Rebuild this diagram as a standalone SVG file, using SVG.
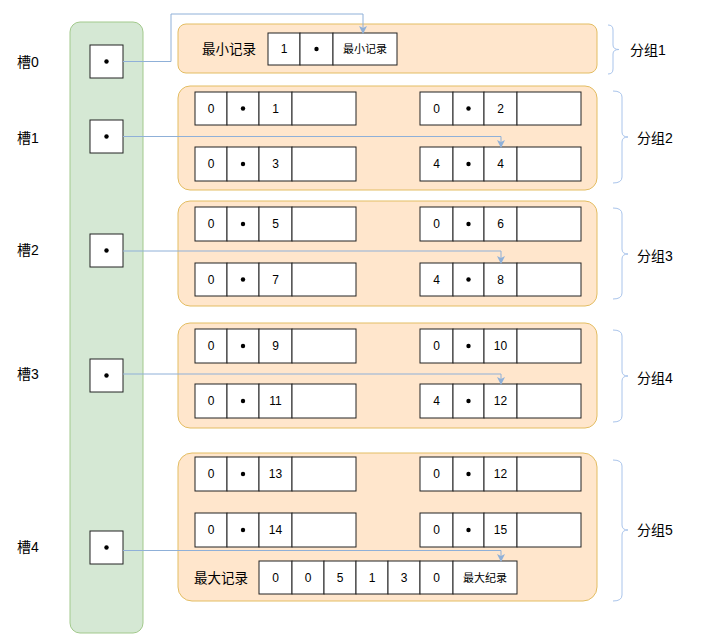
<svg xmlns="http://www.w3.org/2000/svg" width="701" height="643" viewBox="0 0 701 643">
<style>
text{font-family:"Liberation Sans","Noto Sans CJK SC",sans-serif;fill:#000}
.c{fill:#fff;stroke:#222;stroke-width:1}
.t{font-size:12px;text-anchor:middle;dominant-baseline:central}
.d{fill:#000}
.ts{font-size:11px;text-anchor:middle;dominant-baseline:central}
.lbl{font-size:14px;dominant-baseline:central}
.grp{fill:#ffe6cc;stroke:#e3bd62;stroke-width:1}
.br{fill:none;stroke:#a9c4eb;stroke-width:1}
.cn{fill:none;stroke:#8fb0d8;stroke-width:1}
</style>
<defs>
<marker id="ah" markerWidth="8" markerHeight="8" refX="7" refY="4" orient="auto" markerUnits="userSpaceOnUse">
<path d="M0,0 L8,4 L0,8 L2,4 Z" fill="#8fb0d8"/>
</marker>
</defs>

<g id="slots">
<rect x="70" y="22" width="73" height="611" rx="10" fill="#d5e8d4" stroke="#a2c98c"/>
</g>
<g id="slot0"><text class="lbl" x="17" y="62">槽0</text><rect class="c" x="90" y="45" width="33" height="33"/><circle class="d" cx="106.5" cy="61.5" r="2.2"/></g>
<g id="slot1"><text class="lbl" x="17" y="138">槽1</text><rect class="c" x="90" y="120" width="33" height="33"/><circle class="d" cx="106.5" cy="136.5" r="2.2"/></g>
<g id="slot2"><text class="lbl" x="17" y="250">槽2</text><rect class="c" x="90" y="234" width="33" height="33"/><circle class="d" cx="106.5" cy="250.5" r="2.2"/></g>
<g id="slot3"><text class="lbl" x="17" y="374">槽3</text><rect class="c" x="90" y="359" width="33" height="33"/><circle class="d" cx="106.5" cy="375.5" r="2.2"/></g>
<g id="slot4"><text class="lbl" x="17" y="547">槽4</text><rect class="c" x="90" y="531" width="33" height="33"/><circle class="d" cx="106.5" cy="547.5" r="2.2"/></g>

<g id="group1">
<rect class="grp" x="178" y="24" width="419" height="49" rx="8"/>
<text class="lbl" x="202" y="49" style="font-size:13.5px">最小记录</text>
<rect class="c" x="268" y="33" width="32" height="32"/><text class="t" x="284" y="49">1</text>
<rect class="c" x="300" y="33" width="33" height="32"/><circle class="d" cx="316.5" cy="49" r="2.2"/>
<rect class="c" x="333" y="33" width="64" height="32"/><text class="ts" x="365" y="49">最小记录</text>
</g>

<g id="group2">
<rect class="grp" x="178" y="86" width="419" height="104" rx="12"/>
<g transform="translate(0,92)">
<rect class="c" x="195" y="0" width="32" height="33"/><text class="t" x="211" y="16.5">0</text>
<rect class="c" x="227" y="0" width="32" height="33"/><circle class="d" cx="243" cy="16.5" r="2.2"/>
<rect class="c" x="259" y="0" width="33" height="33"/><text class="t" x="275.5" y="16.5">1</text>
<rect class="c" x="292" y="0" width="64" height="33"/>
<rect class="c" x="420" y="0" width="33" height="33"/><text class="t" x="436.5" y="16.5">0</text>
<rect class="c" x="453" y="0" width="31" height="33"/><circle class="d" cx="468.5" cy="16.5" r="2.2"/>
<rect class="c" x="484" y="0" width="33" height="33"/><text class="t" x="500.5" y="16.5">2</text>
<rect class="c" x="517" y="0" width="64" height="33"/>
</g>
<g transform="translate(0,147)">
<rect class="c" x="195" y="0" width="32" height="34"/><text class="t" x="211" y="17">0</text>
<rect class="c" x="227" y="0" width="32" height="34"/><circle class="d" cx="243" cy="17" r="2.2"/>
<rect class="c" x="259" y="0" width="33" height="34"/><text class="t" x="275.5" y="17">3</text>
<rect class="c" x="292" y="0" width="64" height="34"/>
<rect class="c" x="420" y="0" width="33" height="34"/><text class="t" x="436.5" y="17">4</text>
<rect class="c" x="453" y="0" width="31" height="34"/><circle class="d" cx="468.5" cy="17" r="2.2"/>
<rect class="c" x="484" y="0" width="33" height="34"/><text class="t" x="500.5" y="17">4</text>
<rect class="c" x="517" y="0" width="64" height="34"/>
</g>
</g>

<g id="group3">
<rect class="grp" x="178" y="201" width="419" height="105" rx="12"/>
<g transform="translate(0,207)">
<rect class="c" x="195" y="0" width="32" height="34"/><text class="t" x="211" y="17">0</text>
<rect class="c" x="227" y="0" width="32" height="34"/><circle class="d" cx="243" cy="17" r="2.2"/>
<rect class="c" x="259" y="0" width="33" height="34"/><text class="t" x="275.5" y="17">5</text>
<rect class="c" x="292" y="0" width="64" height="34"/>
<rect class="c" x="420" y="0" width="33" height="34"/><text class="t" x="436.5" y="17">0</text>
<rect class="c" x="453" y="0" width="31" height="34"/><circle class="d" cx="468.5" cy="17" r="2.2"/>
<rect class="c" x="484" y="0" width="33" height="34"/><text class="t" x="500.5" y="17">6</text>
<rect class="c" x="517" y="0" width="64" height="34"/>
</g>
<g transform="translate(0,263)">
<rect class="c" x="195" y="0" width="32" height="33"/><text class="t" x="211" y="16.5">0</text>
<rect class="c" x="227" y="0" width="32" height="33"/><circle class="d" cx="243" cy="16.5" r="2.2"/>
<rect class="c" x="259" y="0" width="33" height="33"/><text class="t" x="275.5" y="16.5">7</text>
<rect class="c" x="292" y="0" width="64" height="33"/>
<rect class="c" x="420" y="0" width="33" height="33"/><text class="t" x="436.5" y="16.5">4</text>
<rect class="c" x="453" y="0" width="31" height="33"/><circle class="d" cx="468.5" cy="16.5" r="2.2"/>
<rect class="c" x="484" y="0" width="33" height="33"/><text class="t" x="500.5" y="16.5">8</text>
<rect class="c" x="517" y="0" width="64" height="33"/>
</g>
</g>

<g id="group4">
<rect class="grp" x="178" y="323" width="419" height="105" rx="12"/>
<g transform="translate(0,329)">
<rect class="c" x="195" y="0" width="32" height="34"/><text class="t" x="211" y="17">0</text>
<rect class="c" x="227" y="0" width="32" height="34"/><circle class="d" cx="243" cy="17" r="2.2"/>
<rect class="c" x="259" y="0" width="33" height="34"/><text class="t" x="275.5" y="17">9</text>
<rect class="c" x="292" y="0" width="64" height="34"/>
<rect class="c" x="420" y="0" width="33" height="34"/><text class="t" x="436.5" y="17">0</text>
<rect class="c" x="453" y="0" width="31" height="34"/><circle class="d" cx="468.5" cy="17" r="2.2"/>
<rect class="c" x="484" y="0" width="33" height="34"/><text class="t" x="500.5" y="17">10</text>
<rect class="c" x="517" y="0" width="64" height="34"/>
</g>
<g transform="translate(0,384)">
<rect class="c" x="195" y="0" width="32" height="34"/><text class="t" x="211" y="17">0</text>
<rect class="c" x="227" y="0" width="32" height="34"/><circle class="d" cx="243" cy="17" r="2.2"/>
<rect class="c" x="259" y="0" width="33" height="34"/><text class="t" x="275.5" y="17">11</text>
<rect class="c" x="292" y="0" width="64" height="34"/>
<rect class="c" x="420" y="0" width="33" height="34"/><text class="t" x="436.5" y="17">4</text>
<rect class="c" x="453" y="0" width="31" height="34"/><circle class="d" cx="468.5" cy="17" r="2.2"/>
<rect class="c" x="484" y="0" width="33" height="34"/><text class="t" x="500.5" y="17">12</text>
<rect class="c" x="517" y="0" width="64" height="34"/>
</g>
</g>

<g id="group5">
<rect class="grp" x="178" y="453" width="419" height="148" rx="14"/>
<g transform="translate(0,457)">
<rect class="c" x="195" y="0" width="32" height="34"/><text class="t" x="211" y="17">0</text>
<rect class="c" x="227" y="0" width="32" height="34"/><circle class="d" cx="243" cy="17" r="2.2"/>
<rect class="c" x="259" y="0" width="33" height="34"/><text class="t" x="275.5" y="17">13</text>
<rect class="c" x="292" y="0" width="64" height="34"/>
<rect class="c" x="420" y="0" width="33" height="34"/><text class="t" x="436.5" y="17">0</text>
<rect class="c" x="453" y="0" width="31" height="34"/><circle class="d" cx="468.5" cy="17" r="2.2"/>
<rect class="c" x="484" y="0" width="33" height="34"/><text class="t" x="500.5" y="17">12</text>
<rect class="c" x="517" y="0" width="64" height="34"/>
</g>
<g transform="translate(0,513)">
<rect class="c" x="195" y="0" width="32" height="34"/><text class="t" x="211" y="17">0</text>
<rect class="c" x="227" y="0" width="32" height="34"/><circle class="d" cx="243" cy="17" r="2.2"/>
<rect class="c" x="259" y="0" width="33" height="34"/><text class="t" x="275.5" y="17">14</text>
<rect class="c" x="292" y="0" width="64" height="34"/>
<rect class="c" x="420" y="0" width="33" height="34"/><text class="t" x="436.5" y="17">0</text>
<rect class="c" x="453" y="0" width="31" height="34"/><circle class="d" cx="468.5" cy="17" r="2.2"/>
<rect class="c" x="484" y="0" width="33" height="34"/><text class="t" x="500.5" y="17">15</text>
<rect class="c" x="517" y="0" width="64" height="34"/>
</g>
<text class="lbl" x="194" y="578" style="font-size:13.5px">最大记录</text>
<g transform="translate(0,561)">
<rect class="c" x="259" y="0" width="33" height="33"/><text class="t" x="275.5" y="16.5">0</text>
<rect class="c" x="292" y="0" width="32" height="33"/><text class="t" x="308" y="16.5">0</text>
<rect class="c" x="324" y="0" width="32" height="33"/><text class="t" x="340" y="16.5">5</text>
<rect class="c" x="356" y="0" width="32" height="33"/><text class="t" x="372" y="16.5">1</text>
<rect class="c" x="388" y="0" width="32" height="33"/><text class="t" x="404" y="16.5">3</text>
<rect class="c" x="420" y="0" width="33" height="33"/><text class="t" x="436.5" y="16.5">0</text>
<rect class="c" x="453" y="0" width="64" height="33"/><text class="ts" x="485" y="16.5">最大纪录</text>
</g>
</g>

<g id="braces">
<path class="br" d="M608,25 Q613,25 613,30 L613,45 Q613,49.5 619,49.5 Q613,49.5 613,54 L613,69 Q613,74 608,74"/>
<text class="lbl" x="630" y="50">分组1</text>
<path class="br" d="M613,91 Q622,91 622,97 L622,132 Q622,137 628,137 Q622,137 622,142 L622,177 Q622,183 613,183"/>
<text class="lbl" x="637" y="138">分组2</text>
<path class="br" d="M613,208 Q622,208 622,214 L622,249 Q622,254 628,254 Q622,254 622,259 L622,293 Q622,299 613,299"/>
<text class="lbl" x="637" y="256">分组3</text>
<path class="br" d="M613,330 Q622,330 622,336 L622,371 Q622,376 628,376 Q622,376 622,381 L622,416 Q622,422 613,422"/>
<text class="lbl" x="637" y="378">分组4</text>
<path class="br" d="M613,460 Q622,460 622,466 L622,525 Q622,530 628,530 Q622,530 622,535 L622,595 Q622,601 613,601"/>
<text class="lbl" x="637" y="530">分组5</text>
</g>

<g id="connectors">
<path class="cn" d="M123,61.5 L171,61.5 L171,14 L363,14 L363,33" marker-end="url(#ah)"/>
<path class="cn" d="M123,136.5 L501,136.5 L501,147" marker-end="url(#ah)"/>
<path class="cn" d="M123,251 L501,251 L501,263" marker-end="url(#ah)"/>
<path class="cn" d="M123,374 L501,374 L501,384" marker-end="url(#ah)"/>
<path class="cn" d="M123,550.5 L501,550.5 L501,561" marker-end="url(#ah)"/>
</g>
</svg>
